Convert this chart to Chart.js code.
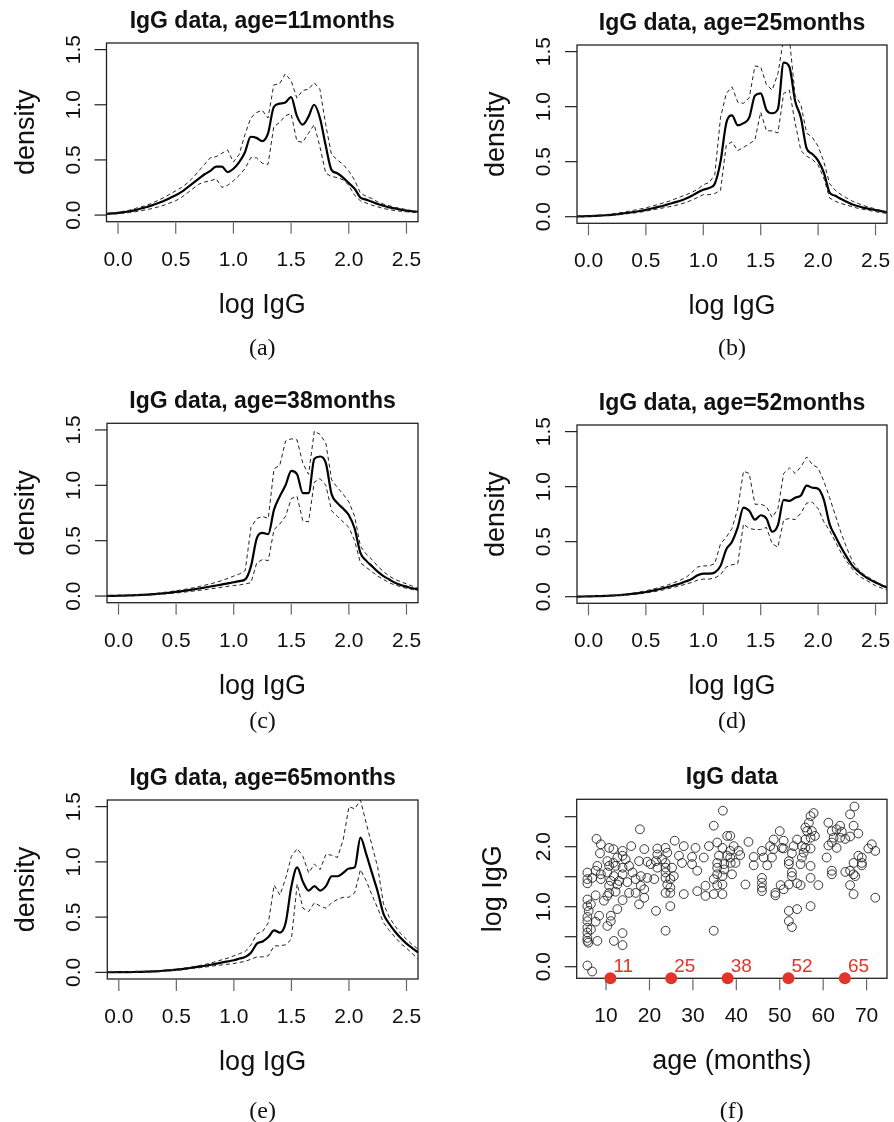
<!DOCTYPE html>
<html lang="en">
<head>
<meta charset="UTF-8">
<title>IgG data</title>
<script src="https://cdn.jsdelivr.net/npm/chart.js"></script>
<style>
  body { margin: 0; background: #fff; }
  #wrap { position: relative; width: 894px; height: 1122px; }
  canvas { position: absolute; }
</style>
</head>
<body>
<div id="wrap">
  <canvas id="pa" width="447" height="376" style="left:0;top:0"></canvas>
  <canvas id="pb" width="447" height="376" style="left:447px;top:0"></canvas>
  <canvas id="pc" width="447" height="380" style="left:0;top:376px"></canvas>
  <canvas id="pd" width="447" height="380" style="left:447px;top:376px"></canvas>
  <canvas id="pe" width="447" height="366" style="left:0;top:756px"></canvas>
  <canvas id="pf" width="447" height="366" style="left:447px;top:756px"></canvas>
</div>
<script>
// grid of log IgG values for the density curves
const logGrid = [-0.1,-0.05,0,0.05,0.1,0.15,0.2,0.25,0.3,0.35,0.4,
  0.45,0.5,0.55,0.6,0.65,0.7,0.75,0.8,0.85,0.9,0.95,
  1,1.05,1.1,1.15,1.2,1.25,1.3,1.35,1.4,1.45,1.5,
  1.55,1.6,1.65,1.7,1.75,1.8,1.85,1.9,1.95,2,2.05,
  2.1,2.15,2.2,2.25,2.3,2.35,2.4,2.45,2.5,2.55,2.6];

// age = 11 months
const meanA = [0.01,0.015,0.02,0.027,0.035,0.045,0.06,0.073,0.09,0.11,0.13,
  0.155,0.18,0.21,0.25,0.29,0.33,0.37,0.40,0.44,0.44,0.39,
  0.42,0.48,0.57,0.71,0.70,0.67,0.74,0.98,1.01,1.02,1.07,
  0.90,0.82,0.89,1.00,0.88,0.63,0.41,0.38,0.34,0.29,0.24,
  0.16,0.14,0.12,0.10,0.085,0.07,0.06,0.05,0.04,0.035,0.03];
const upperA = [0.015,0.02,0.025,0.035,0.045,0.06,0.075,0.09,0.11,0.135,0.16,
  0.19,0.22,0.25,0.29,0.34,0.40,0.46,0.52,0.53,0.56,0.59,
  0.48,0.55,0.73,0.88,0.93,0.95,0.88,1.18,1.19,1.28,1.22,
  1.06,1.13,1.14,1.20,1.14,0.82,0.55,0.50,0.46,0.40,0.32,
  0.20,0.17,0.15,0.12,0.10,0.085,0.07,0.06,0.05,0.04,0.03];
const lowerA = [0.005,0.008,0.012,0.017,0.023,0.03,0.04,0.05,0.06,0.075,0.09,
  0.11,0.13,0.16,0.20,0.24,0.28,0.30,0.31,0.33,0.25,0.27,
  0.31,0.36,0.42,0.52,0.52,0.47,0.46,0.80,0.84,0.90,0.92,
  0.67,0.66,0.74,0.82,0.62,0.38,0.35,0.34,0.32,0.27,0.18,
  0.13,0.11,0.09,0.075,0.06,0.05,0.04,0.035,0.03,0.025,0.02];

// age = 25 months
const meanB = [0.002,0.003,0.005,0.007,0.01,0.013,0.017,0.022,0.03,0.036,0.043,
  0.052,0.062,0.074,0.087,0.10,0.115,0.13,0.145,0.165,0.19,0.22,
  0.245,0.26,0.30,0.50,0.85,0.92,0.83,0.85,0.90,1.10,1.12,
  0.97,0.94,0.98,1.40,1.36,1.05,0.90,0.62,0.57,0.51,0.40,
  0.22,0.19,0.16,0.135,0.11,0.095,0.08,0.07,0.06,0.05,0.04];
const upperB = [0.003,0.005,0.007,0.01,0.014,0.019,0.025,0.032,0.04,0.05,0.06,
  0.07,0.08,0.095,0.11,0.125,0.14,0.16,0.18,0.20,0.22,0.25,
  0.29,0.31,0.38,0.90,1.12,1.18,1.04,1.03,1.08,1.37,1.36,
  1.20,1.15,1.30,1.62,1.62,1.10,1.02,0.76,0.72,0.64,0.50,
  0.30,0.24,0.20,0.17,0.14,0.12,0.10,0.085,0.07,0.055,0.045];
const lowerB = [0.001,0.002,0.003,0.005,0.007,0.01,0.013,0.017,0.022,0.028,0.034,
  0.041,0.05,0.06,0.07,0.08,0.09,0.10,0.115,0.13,0.15,0.175,
  0.20,0.20,0.21,0.24,0.65,0.68,0.60,0.63,0.66,0.70,0.95,
  0.78,0.78,0.76,1.12,1.15,0.85,0.60,0.55,0.52,0.47,0.35,
  0.17,0.14,0.12,0.105,0.09,0.075,0.065,0.055,0.045,0.037,0.03];

// age = 38 months
const meanC = [0.001,0.002,0.003,0.004,0.006,0.008,0.01,0.013,0.017,0.021,0.026,
  0.031,0.037,0.044,0.052,0.06,0.068,0.077,0.086,0.095,0.105,0.115,
  0.125,0.135,0.15,0.27,0.52,0.57,0.56,0.78,0.90,1.00,1.13,
  1.10,0.93,0.93,1.24,1.26,1.20,0.92,0.84,0.79,0.73,0.61,
  0.39,0.32,0.27,0.22,0.18,0.15,0.12,0.10,0.085,0.07,0.06];
const upperC = [0.002,0.003,0.004,0.006,0.008,0.011,0.014,0.018,0.023,0.028,0.034,
  0.041,0.048,0.056,0.065,0.075,0.086,0.098,0.11,0.125,0.14,0.16,
  0.18,0.20,0.23,0.62,0.70,0.72,0.70,1.15,1.18,1.40,1.42,
  1.41,1.20,1.10,1.49,1.46,1.38,1.05,0.98,0.92,0.85,0.72,
  0.45,0.38,0.33,0.27,0.22,0.18,0.15,0.13,0.11,0.09,0.07];
const lowerC = [0.0005,0.001,0.002,0.003,0.004,0.005,0.007,0.009,0.012,0.015,0.019,
  0.023,0.028,0.033,0.039,0.045,0.051,0.058,0.065,0.072,0.08,0.088,
  0.095,0.10,0.11,0.12,0.30,0.33,0.32,0.60,0.65,0.72,0.88,
  0.90,0.68,0.67,1.03,1.06,1.00,0.77,0.72,0.67,0.62,0.50,
  0.30,0.26,0.22,0.18,0.15,0.12,0.10,0.085,0.07,0.06,0.05];

// age = 52 months
const meanD = [0.001,0.002,0.003,0.004,0.005,0.007,0.01,0.013,0.017,0.022,0.028,
  0.035,0.043,0.053,0.064,0.077,0.09,0.105,0.12,0.14,0.16,0.195,
  0.21,0.21,0.22,0.28,0.43,0.50,0.63,0.81,0.78,0.70,0.74,
  0.71,0.59,0.65,0.88,0.87,0.90,0.92,1.01,0.99,0.98,0.88,
  0.66,0.55,0.45,0.36,0.28,0.23,0.19,0.155,0.13,0.105,0.085];
const upperD = [0.002,0.003,0.004,0.005,0.007,0.009,0.013,0.017,0.022,0.028,0.035,
  0.044,0.054,0.066,0.079,0.094,0.11,0.13,0.15,0.175,0.22,0.27,
  0.28,0.28,0.30,0.48,0.54,0.62,0.80,1.14,1.12,0.84,0.84,
  0.82,0.72,0.80,1.12,1.17,1.12,1.18,1.27,1.20,1.17,1.05,
  0.90,0.74,0.58,0.44,0.32,0.25,0.20,0.17,0.14,0.11,0.09];
const lowerD = [0.0005,0.001,0.002,0.003,0.004,0.005,0.007,0.009,0.012,0.016,0.021,
  0.027,0.034,0.042,0.051,0.062,0.074,0.087,0.10,0.115,0.13,0.15,
  0.16,0.16,0.17,0.20,0.27,0.29,0.30,0.66,0.62,0.61,0.61,
  0.63,0.48,0.45,0.70,0.71,0.70,0.76,0.85,0.86,0.80,0.68,
  0.60,0.50,0.40,0.32,0.25,0.19,0.16,0.13,0.10,0.08,0.06];

// age = 65 months
const meanE = [0.001,0.001,0.002,0.002,0.003,0.004,0.005,0.007,0.009,0.012,0.016,
  0.02,0.025,0.03,0.037,0.044,0.052,0.06,0.069,0.079,0.09,0.10,
  0.11,0.125,0.14,0.18,0.26,0.28,0.32,0.38,0.36,0.45,0.78,
  0.95,0.82,0.74,0.78,0.74,0.78,0.87,0.87,0.90,0.94,0.95,
  1.22,1.07,0.90,0.73,0.53,0.44,0.37,0.31,0.26,0.22,0.18];
const upperE = [0.002,0.002,0.003,0.004,0.005,0.006,0.008,0.01,0.013,0.016,0.02,
  0.025,0.03,0.036,0.044,0.053,0.062,0.072,0.084,0.10,0.115,0.13,
  0.15,0.17,0.19,0.25,0.35,0.37,0.45,0.79,0.70,0.85,1.05,
  1.12,1.05,0.90,0.98,0.93,1.07,1.06,1.04,1.20,1.50,1.48,
  1.56,1.35,1.15,0.95,0.62,0.50,0.42,0.35,0.30,0.25,0.21];
const lowerE = [0.0005,0.001,0.001,0.002,0.002,0.003,0.004,0.005,0.007,0.009,0.012,
  0.015,0.019,0.024,0.03,0.036,0.042,0.048,0.055,0.062,0.068,0.074,
  0.08,0.09,0.10,0.12,0.14,0.14,0.15,0.24,0.24,0.25,0.30,
  0.80,0.58,0.55,0.63,0.60,0.58,0.63,0.66,0.68,0.68,0.72,
  0.93,0.83,0.70,0.58,0.45,0.38,0.32,0.26,0.22,0.17,0.12];

// raw data: age (months) and log IgG
const ageMonths = [17.8,7.8,8.8,10.7,11.7,13.8,15.8,18.8,8.6,13.8,
  12.6,10.3,11.7,14.5,17.6,19.5,21.5,8.0,10.7,12.2,13.8,15.3,20.3,
  5.7,7.6,8.8,10.3,11.8,13.8,16.1,18.0,19.5,21.1,5.7,6.8,8.8,11.1,13.0,14.9,16.8,
  5.7,10.7,12.6,18.0,18.8,16.8,7.6,10.7,12.2,15.3,10.3,
  5.7,9.5,13.8,18.8,17.6,5.7,6.5,21.5,6.0,12.6,11.1,8.4,5.7,
  5.7,7.6,11.1,10.3,5.7,6.5,5.7,13.8,5.7,5.7,8.0,11.8,13.8,5.9,5.7,6.8,
  36.9,34.8,37.9,25.8,35.6,21.8,23.7,27.9,30.6,33.7,36.8,
  21.8,24.1,26.8,29.8,32.5,36.0,37.9,22.9,23.7,27.5,29.8,35.6,37.2,38.7,
  21.8,23.7,25.2,31.0,35.6,37.2,23.7,25.6,35.6,36.8,23.7,24.8,34.8,
  24.1,24.8,32.9,35.6,36.8,23.7,24.8,27.9,31.0,32.9,34.8,36.8,24.8,23.7,34.8,
  57.1,56.7,55.9,50.0,56.3,38.6,42.8,48.6,50.9,54.0,55.9,57.1,
  39.4,47.8,50.5,53.2,55.1,55.9,57.1,38.6,40.5,45.9,48.6,50.9,52.8,55.5,
  38.6,40.9,44.0,46.3,48.2,52.1,55.1,39.8,44.0,47.1,52.1,54.8,57.1,
  39.0,52.8,52.8,57.1,42.1,45.9,45.9,45.9,45.9,50.2,52.1,54.0,54.8,
  49.0,49.0,50.9,52.1,54.0,57.1,52.1,52.8,
  67.2,66.2,57.8,61.2,63.9,67.0,57.4,62.0,63.1,64.3,68.1,58.1,62.4,63.9,65.1,66.2,
  61.2,62.0,63.1,71.2,70.4,72.0,68.1,68.9,60.8,67.0,68.9,68.9,
  62.0,62.0,65.1,66.2,67.0,67.4,58.9,66.2,67.0,72.0];
const logIgG = [2.29,2.13,2.04,1.98,1.96,1.93,2.01,1.96,1.89,1.85,
  1.82,1.76,1.73,1.79,1.76,1.75,1.76,1.68,1.68,1.68,1.65,1.68,1.71,
  1.57,1.60,1.54,1.57,1.51,1.54,1.57,1.51,1.48,1.46,1.46,1.48,1.46,1.43,1.43,1.41,1.46,
  1.39,1.35,1.37,1.35,1.29,1.23,1.19,1.23,1.25,1.23,1.18,
  1.12,1.10,1.11,1.15,1.04,1.01,1.04,0.93,0.93,0.96,0.85,0.85,0.83,
  0.76,0.75,0.76,0.68,0.65,0.62,0.57,0.56,0.48,0.43,0.43,0.43,0.36,0.40,0.02,-0.08,
  2.60,2.35,2.18,2.10,2.07,1.97,1.98,2.01,1.98,2.01,1.98,
  1.87,1.90,1.85,1.83,1.82,1.85,1.85,1.79,1.73,1.73,1.71,1.73,1.71,1.73,
  1.65,1.65,1.65,1.60,1.65,1.62,1.57,1.51,1.54,1.51,1.48,1.46,1.46,
  1.37,1.32,1.35,1.36,1.37,1.23,1.23,1.21,1.26,1.18,1.21,1.21,1.01,0.60,0.60,
  2.51,2.40,2.32,2.26,2.26,2.18,2.08,2.12,2.10,2.12,2.12,2.15,
  2.01,2.01,1.98,2.01,2.01,1.98,1.97,1.93,1.93,1.93,1.96,1.97,1.89,1.90,
  1.82,1.86,1.83,1.82,1.82,1.76,1.82,1.73,1.69,1.69,1.71,1.71,1.68,
  1.54,1.57,1.51,1.48,1.37,1.48,1.40,1.32,1.26,1.36,1.37,1.39,1.36,
  1.23,1.19,1.29,0.93,0.96,1.01,0.76,0.66,
  2.67,2.54,2.56,2.40,2.35,2.35,2.26,2.26,2.29,2.25,2.22,2.18,2.15,2.15,2.13,2.17,
  2.02,2.07,1.98,2.04,1.97,1.93,1.85,1.82,1.82,1.73,1.73,1.69,
  1.60,1.54,1.58,1.60,1.54,1.51,1.36,1.36,1.21,1.15];
const markAges = [11, 25, 38, 52, 65];

// ticks
const densXTicks = [0, 0.5, 1, 1.5, 2, 2.5];
const densXLabels = ['0.0', '0.5', '1.0', '1.5', '2.0', '2.5'];
const densYTicks = [0, 0.5, 1, 1.5];
const densYLabels = ['0.0', '0.5', '1.0', '1.5'];
const ageTicks = [10, 20, 30, 40, 50, 60, 70];
const ageLabels = ['10', '20', '30', '40', '50', '60', '70'];
const igYTicks = [0, 0.5, 1, 1.5, 2, 2.5];
const igYLabels = ['0.0', '', '1.0', '', '2.0', ''];

const SANS = '"Liberation Sans", Arial, sans-serif';
const SERIF = '"Liberation Serif", "Times New Roman", serif';

// R-style frame, ticks and labels
const rFrame = {
  id: 'rFrame',
  beforeDatasetsDraw(chart, args, o) {
    const ctx = chart.ctx, a = chart.chartArea;
    ctx.save();
    ctx.strokeStyle = '#222';
    ctx.lineWidth = 1.3;
    ctx.strokeRect(a.left, a.top, a.right - a.left, a.bottom - a.top);
    ctx.restore();
  },
  afterDatasetsDraw(chart, args, o) {
    const ctx = chart.ctx, a = chart.chartArea;
    const sx = chart.scales.x, sy = chart.scales.y;
    const cx = (a.left + a.right) / 2, cy = (a.top + a.bottom) / 2;
    ctx.save();
    ctx.fillStyle = '#111';
    // y ticks
    ctx.strokeStyle = '#222';
    ctx.lineWidth = 1.2;
    ctx.font = '21px ' + SANS;
    ctx.textAlign = 'center';
    ctx.textBaseline = 'alphabetic';
    o.yTicks.forEach((v, i) => {
      const py = sy.getPixelForValue(v);
      ctx.beginPath(); ctx.moveTo(a.left - 12, py); ctx.lineTo(a.left, py); ctx.stroke();
      if (o.yLabels[i]) {
        ctx.save(); ctx.translate(a.left - 27, py); ctx.rotate(-Math.PI / 2);
        ctx.fillText(o.yLabels[i], 0, 0); ctx.restore();
      }
    });
    // x ticks
    ctx.strokeStyle = '#666';
    o.xTicks.forEach((v, i) => {
      const px = sx.getPixelForValue(v);
      ctx.beginPath(); ctx.moveTo(px, a.bottom + 1); ctx.lineTo(px, a.bottom + 12); ctx.stroke();
      ctx.fillText(o.xLabels[i], px, a.bottom + 44);
    });
    // axis titles
    ctx.font = '27px ' + SANS;
    ctx.fillText(o.xTitle, cx, a.bottom + 91);
    ctx.save(); ctx.translate(a.left - o.yTitleOff, cy); ctx.rotate(-Math.PI / 2);
    ctx.fillText(o.yTitle, 0, 0); ctx.restore();
    // main title
    ctx.font = 'bold 23px ' + SANS;
    ctx.fillText(o.title, cx, a.top - 15);
    // caption
    ctx.font = '24px ' + SERIF;
    ctx.fillText(o.caption, cx, o.captionY);
    // red age marks
    if (o.marks) {
      ctx.fillStyle = '#e3342a';
      ctx.font = '19px ' + SANS;
      ctx.textAlign = 'left';
      o.marks.forEach(m => {
        ctx.fillText(String(m), sx.getPixelForValue(m) + 3, a.bottom - 6);
      });
    }
    ctx.restore();
  }
};

function densityChart(id, mean, upper, lower, age, caption, pad, captionY) {
  const pts = arr => logGrid.map((x, i) => ({ x: x, y: arr[i] }));
  const dashed = {
    borderColor: '#222', borderWidth: 1, borderDash: [4, 3],
    pointRadius: 0, tension: 0, fill: false
  };
  return new Chart(document.getElementById(id), {
    type: 'line',
    data: {
      datasets: [
        Object.assign({ data: pts(upper) }, dashed),
        Object.assign({ data: pts(lower) }, dashed),
        { data: pts(mean), borderColor: '#000', borderWidth: 2.2, pointRadius: 0,
          cubicInterpolationMode: 'monotone', fill: false }
      ]
    },
    options: {
      responsive: false, animation: false, events: [],
      layout: { padding: pad },
      scales: {
        x: { type: 'linear', min: -0.1, max: 2.6, display: false },
        y: { type: 'linear', min: -0.06, max: 1.56, display: false }
      },
      plugins: {
        legend: { display: false }, tooltip: { enabled: false },
        rFrame: {
          title: 'IgG data, age=' + age + 'months', xTitle: 'log IgG', yTitle: 'density',
          yTitleOff: 73, caption: caption, captionY: captionY,
          xTicks: densXTicks, xLabels: densXLabels, yTicks: densYTicks, yLabels: densYLabels
        }
      }
    },
    plugins: [rFrame]
  });
}

densityChart('pa', meanA, upperA, lowerA, 11, '(a)', { left: 106.5, top: 43, right: 29, bottom: 154.3 }, 355);
densityChart('pb', meanB, upperB, lowerB, 25, '(b)', { left: 130, top: 45, right: 7, bottom: 152.7 }, 355);
densityChart('pc', meanC, upperC, lowerC, 38, '(c)', { left: 107, top: 47.3, right: 29, bottom: 153.3 }, 352);
densityChart('pd', meanD, upperD, lowerD, 52, '(d)', { left: 130, top: 49, right: 7, bottom: 152.7 }, 352);
densityChart('pe', meanE, upperE, lowerE, 65, '(e)', { left: 107.3, top: 44, right: 29, bottom: 143 }, 362);

new Chart(document.getElementById('pf'), {
  type: 'scatter',
  data: {
    datasets: [
      { data: ageMonths.map((a, i) => ({ x: a, y: logIgG[i] })),
        pointRadius: 4.4, pointBorderWidth: 0.9, pointBorderColor: '#222',
        pointBackgroundColor: 'rgba(0,0,0,0)' },
      { data: markAges.map(a => ({ x: a, y: -0.193 })), clip: false,
        pointRadius: 6, pointBorderWidth: 0, pointBackgroundColor: '#e3342a' }
    ]
  },
  options: {
    responsive: false, animation: false, events: [],
    layout: { padding: { left: 129.7, top: 43.3, right: 7, bottom: 143.7 } },
    scales: {
      x: { type: 'linear', min: 3.24, max: 74.7, display: false },
      y: { type: 'linear', min: -0.193, max: 2.79, display: false }
    },
    plugins: {
      legend: { display: false }, tooltip: { enabled: false },
      rFrame: {
        title: 'IgG data', xTitle: 'age (months)', yTitle: 'log IgG', yTitleOff: 76,
        caption: '(f)', captionY: 362,
        xTicks: ageTicks, xLabels: ageLabels, yTicks: igYTicks, yLabels: igYLabels,
        marks: markAges
      }
    }
  },
  plugins: [rFrame]
});
</script>
</body>
</html>
